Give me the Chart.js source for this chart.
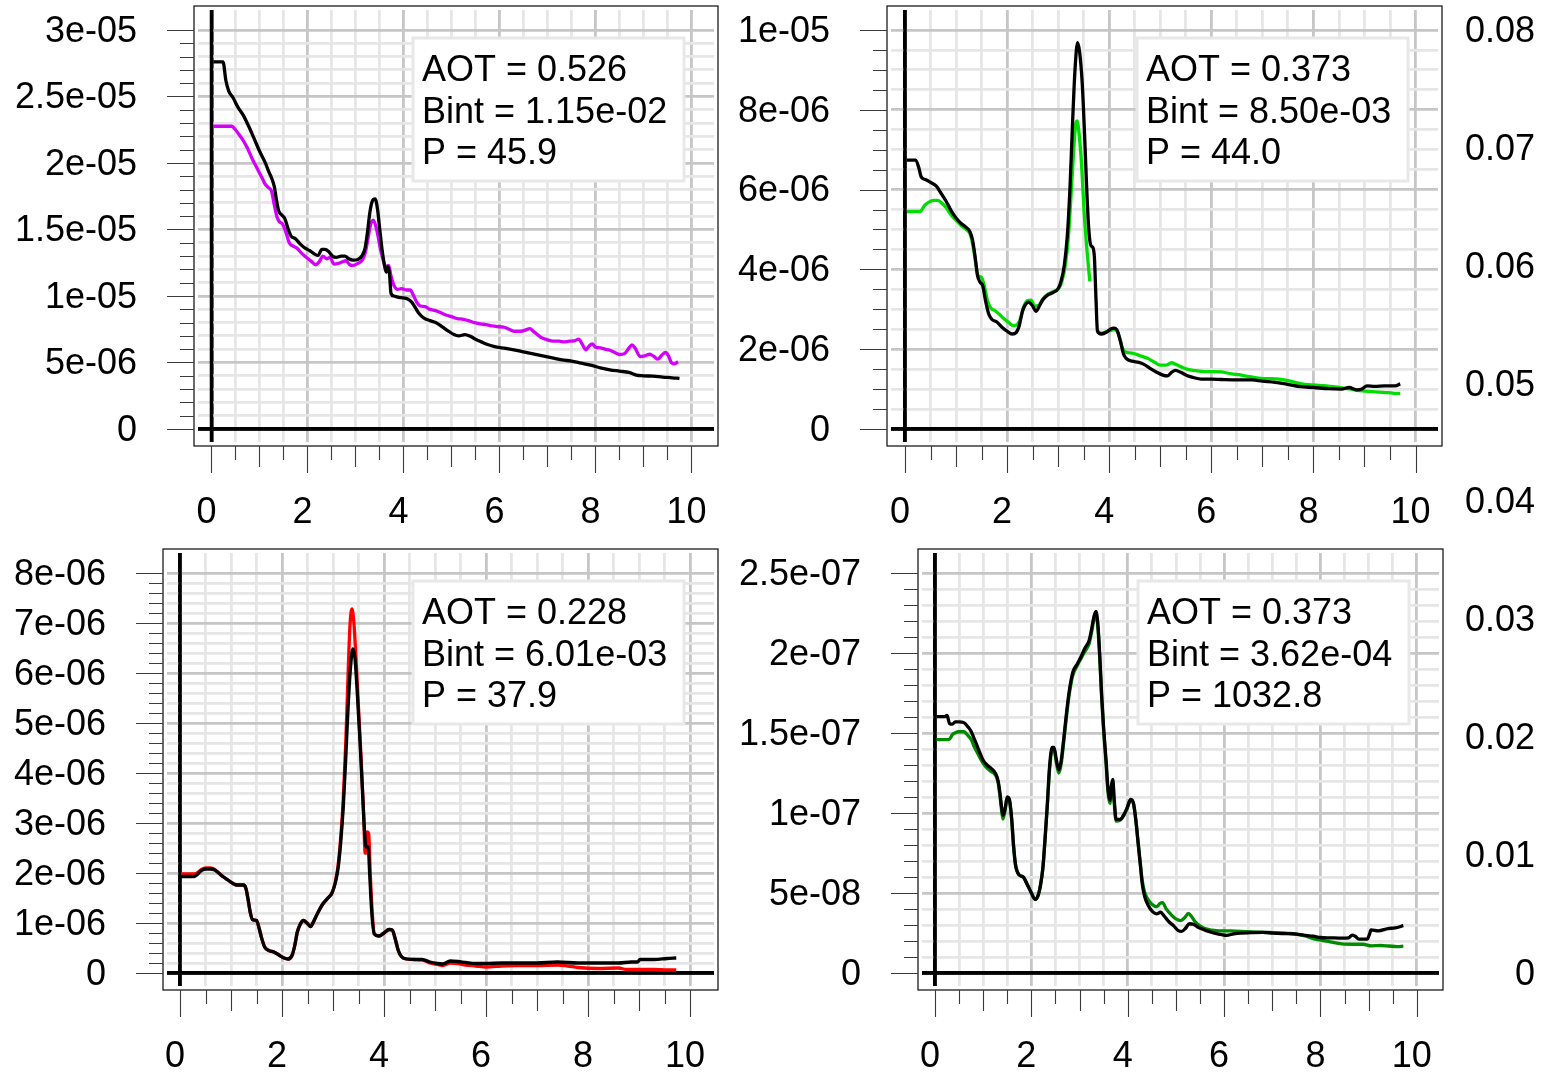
<!DOCTYPE html>
<html>
<head>
<meta charset="utf-8">
<script src="https://cdn.jsdelivr.net/npm/chart.js@4.4.1/dist/chart.umd.min.js"></script>
<style>
  html, body { margin: 0; padding: 0; background: #fff; }
  #wrap { position: relative; width: 1544px; height: 1073px; overflow: hidden; }
  canvas { position: absolute; left: 0; top: 0; }
</style>
</head>
<body>
<div id="wrap">
  <canvas id="c1" width="1544" height="1073"></canvas>
  <canvas id="c2" width="1544" height="1073"></canvas>
  <canvas id="c3" width="1544" height="1073"></canvas>
  <canvas id="c4" width="1544" height="1073"></canvas>
  <canvas id="c5" width="1544" height="1073"></canvas>
</div>
<script>
const W = 1544, H = 1073;

// x axis: grid every 0.5, labels on even values
const xLabels = [0, 2, 4, 6, 8, 10];
const xMinor = 0.5;

// right-hand axis shared by both rows
const rightTicks = [0, 0.01, 0.02, 0.03, 0.04, 0.05, 0.06, 0.07, 0.08];
const rightLabels = ['0', '0.01', '0.02', '0.03', '0.04', '0.05', '0.06', '0.07', '0.08'];

// ---- panel 1 (y in 1e-6) ----
const p1Text = ['AOT = 0.526', 'Bint = 1.15e-02', 'P = 45.9'];
const p1YLabels = ['0', '5e-06', '1e-05', '1.5e-05', '2e-05', '2.5e-05', '3e-05'];
const p1Black = [[0.04,27.6],[0.24,27.6],[0.3,26.2],[0.36,25.4],[0.45,24.9],[0.55,24.2],[0.66,23.6],[0.77,22.8],[0.88,21.9],[1.0,20.9],[1.11,20.1],[1.2,19.3],[1.26,18.8],[1.31,18.2],[1.35,17.3],[1.4,16.4],[1.46,16.1],[1.53,15.8],[1.6,15.0],[1.66,14.5],[1.75,14.3],[1.85,13.9],[1.95,13.6],[2.05,13.4],[2.15,13.15],[2.22,13.05],[2.3,13.5],[2.36,13.5],[2.44,13.35],[2.52,13.0],[2.6,12.9],[2.7,13.0],[2.78,13.0],[2.86,12.8],[2.95,12.7],[3.05,12.75],[3.13,13.0],[3.2,13.6],[3.25,14.8],[3.3,16.3],[3.36,17.2],[3.41,17.3],[3.46,16.5],[3.5,15.2],[3.55,13.6],[3.6,12.4],[3.64,11.8],[3.68,12.2],[3.71,11.6],[3.74,10.2],[3.8,10.0],[3.9,9.9],[4.0,9.85],[4.1,9.75],[4.18,9.5],[4.25,9.1],[4.32,8.7],[4.42,8.35],[4.55,8.15],[4.67,8.0],[4.8,7.7],[4.92,7.4],[5.05,7.1],[5.15,7.0],[5.28,7.1],[5.4,6.95],[5.5,6.75],[5.62,6.55],[5.75,6.35],[5.9,6.2],[6.05,6.1],[6.3,5.95],[6.5,5.8],[6.7,5.65],[6.9,5.5],[7.1,5.35],[7.3,5.2],[7.5,5.1],[7.7,4.95],[7.9,4.8],[8.1,4.6],[8.3,4.45],[8.5,4.35],[8.7,4.25],[8.85,4.05],[9.0,4.0],[9.2,3.97],[9.4,3.9],[9.6,3.85],[9.75,3.8]];
const p1Magenta = [[0.04,22.76],[0.42,22.76],[0.5,22.5],[0.58,22.1],[0.66,21.7],[0.75,21.1],[0.85,20.3],[0.95,19.6],[1.05,18.9],[1.12,18.4],[1.2,18.1],[1.25,17.9],[1.3,17.0],[1.36,16.0],[1.41,15.6],[1.48,15.4],[1.55,14.8],[1.62,14.0],[1.7,13.75],[1.78,13.6],[1.88,13.2],[1.98,12.9],[2.08,12.6],[2.17,12.35],[2.25,12.6],[2.32,13.0],[2.4,12.8],[2.47,12.9],[2.55,12.4],[2.65,12.45],[2.72,12.55],[2.8,12.65],[2.88,12.35],[2.95,12.3],[3.05,12.45],[3.14,12.7],[3.2,13.2],[3.26,14.3],[3.31,15.3],[3.37,15.7],[3.42,15.3],[3.47,14.5],[3.52,13.5],[3.57,12.8],[3.62,12.2],[3.69,12.3],[3.74,11.5],[3.8,10.8],[3.88,10.5],[3.96,10.55],[4.06,10.45],[4.14,10.45],[4.2,10.1],[4.28,9.5],[4.35,9.25],[4.45,9.2],[4.55,9.0],[4.67,8.9],[4.8,8.7],[4.9,8.55],[5.0,8.45],[5.12,8.3],[5.25,8.25],[5.35,8.15],[5.48,8.0],[5.6,7.9],[5.72,7.85],[5.85,7.75],[5.95,7.7],[6.1,7.65],[6.2,7.5],[6.3,7.35],[6.45,7.35],[6.55,7.45],[6.63,7.55],[6.72,7.3],[6.86,6.9],[7.0,6.7],[7.12,6.6],[7.25,6.6],[7.35,6.55],[7.45,6.6],[7.55,6.62],[7.65,6.75],[7.72,6.4],[7.8,5.95],[7.87,6.25],[7.93,6.4],[8.0,6.15],[8.1,6.1],[8.2,6.0],[8.3,5.92],[8.4,5.75],[8.5,5.6],[8.6,5.65],[8.7,6.1],[8.76,6.32],[8.83,6.05],[8.93,5.45],[9.03,5.5],[9.13,5.62],[9.22,5.45],[9.3,5.25],[9.38,5.55],[9.46,5.75],[9.52,5.5],[9.58,5.0],[9.64,4.9],[9.72,5.06]];

// ---- panel 2 (y in 1e-6) ----
const p2Text = ['AOT = 0.373', 'Bint = 8.50e-03', 'P = 44.0'];
const p2YLabels = ['0', '2e-06', '4e-06', '6e-06', '8e-06', '1e-05'];
const p2Black = [[0.04,6.74],[0.21,6.74],[0.27,6.55],[0.32,6.31],[0.4,6.25],[0.5,6.18],[0.61,6.09],[0.7,5.92],[0.8,5.72],[0.9,5.48],[1.0,5.29],[1.1,5.15],[1.2,5.05],[1.27,4.95],[1.32,4.75],[1.37,4.35],[1.42,3.85],[1.47,3.68],[1.52,3.6],[1.58,3.2],[1.64,2.88],[1.7,2.75],[1.8,2.68],[1.9,2.55],[2.0,2.45],[2.1,2.38],[2.18,2.42],[2.24,2.6],[2.3,2.95],[2.36,3.12],[2.42,3.18],[2.49,3.1],[2.57,2.95],[2.63,3.08],[2.7,3.24],[2.8,3.36],[2.9,3.42],[3.0,3.52],[3.06,3.72],[3.12,4.1],[3.18,4.85],[3.23,6.0],[3.28,7.6],[3.33,9.0],[3.38,9.68],[3.42,9.45],[3.47,8.7],[3.52,7.3],[3.56,6.0],[3.6,5.0],[3.64,4.6],[3.68,4.55],[3.71,4.3],[3.74,3.3],[3.77,2.45],[3.85,2.38],[3.95,2.43],[4.02,2.5],[4.1,2.53],[4.16,2.45],[4.22,2.2],[4.28,1.88],[4.34,1.76],[4.45,1.7],[4.58,1.67],[4.68,1.62],[4.8,1.52],[4.92,1.43],[5.05,1.35],[5.14,1.33],[5.22,1.42],[5.3,1.47],[5.4,1.42],[5.52,1.34],[5.65,1.29],[5.8,1.25],[6.0,1.25],[6.2,1.24],[6.5,1.23],[6.8,1.23],[7.0,1.2],[7.25,1.17],[7.5,1.12],[7.75,1.06],[8.0,1.04],[8.3,1.01],[8.55,1.0],[8.7,1.04],[8.85,0.98],[8.95,1.0],[9.05,1.08],[9.2,1.07],[9.4,1.08],[9.6,1.08],[9.7,1.13]];
const p2Green = [[0.04,5.45],[0.3,5.45],[0.38,5.6],[0.46,5.68],[0.56,5.73],[0.64,5.73],[0.72,5.66],[0.8,5.56],[0.9,5.37],[1.0,5.23],[1.1,5.1],[1.2,5.0],[1.27,4.9],[1.33,4.6],[1.38,4.2],[1.43,3.85],[1.5,3.8],[1.56,3.55],[1.62,3.2],[1.68,3.03],[1.76,2.97],[1.84,2.88],[1.94,2.76],[2.04,2.66],[2.12,2.59],[2.2,2.62],[2.27,2.8],[2.33,3.08],[2.4,3.22],[2.47,3.23],[2.54,3.08],[2.62,3.1],[2.7,3.26],[2.8,3.38],[2.9,3.44],[3.0,3.5],[3.07,3.68],[3.14,4.1],[3.2,4.8],[3.25,5.8],[3.3,6.9],[3.34,7.6],[3.37,7.72],[3.41,7.4],[3.46,6.6],[3.51,5.4],[3.57,4.4],[3.62,3.7],[3.7,null],[3.77,2.45],[3.85,2.4],[3.95,2.44],[4.05,2.48],[4.14,2.5],[4.2,2.3],[4.26,2.02],[4.32,1.93],[4.45,1.9],[4.6,1.84],[4.75,1.77],[4.88,1.68],[5.0,1.6],[5.12,1.6],[5.22,1.66],[5.3,1.62],[5.42,1.55],[5.52,1.5],[5.7,1.46],[5.86,1.44],[6.0,1.44],[6.2,1.43],[6.4,1.38],[6.54,1.36],[6.75,1.31],[6.97,1.27],[7.2,1.26],[7.4,1.24],[7.6,1.18],[7.82,1.12],[8.05,1.1],[8.25,1.08],[8.5,1.04],[8.68,1.01],[8.85,0.97],[9.02,0.95],[9.2,0.93],[9.36,0.92],[9.55,0.9],[9.7,0.89]];

// ---- panel 3 (y in 1e-6) ----
const p3Text = ['AOT = 0.228', 'Bint = 6.01e-03', 'P = 37.9'];
const p3YLabels = ['0', '1e-06', '2e-06', '3e-06', '4e-06', '5e-06', '6e-06', '7e-06', '8e-06'];
const p3Black = [[0.02,1.93],[0.28,1.93],[0.35,1.98],[0.42,2.05],[0.51,2.08],[0.6,2.08],[0.68,2.06],[0.76,2.0],[0.84,1.93],[0.94,1.86],[1.04,1.79],[1.12,1.76],[1.24,1.76],[1.29,1.7],[1.33,1.5],[1.38,1.2],[1.42,1.07],[1.5,1.05],[1.55,0.9],[1.6,0.7],[1.66,0.52],[1.74,0.45],[1.84,0.42],[1.94,0.36],[2.04,0.3],[2.12,0.28],[2.2,0.36],[2.25,0.55],[2.3,0.82],[2.36,0.98],[2.42,1.05],[2.49,1.0],[2.56,0.93],[2.62,1.03],[2.7,1.2],[2.8,1.38],[2.9,1.5],[2.98,1.6],[3.05,1.82],[3.1,2.1],[3.15,2.6],[3.2,3.3],[3.25,4.3],[3.3,5.4],[3.35,6.2],[3.39,6.48],[3.43,6.3],[3.47,5.7],[3.52,4.8],[3.57,3.8],[3.62,2.8],[3.65,2.52],[3.69,2.52],[3.72,1.95],[3.76,1.2],[3.81,0.78],[3.9,0.74],[4.0,0.8],[4.1,0.87],[4.16,0.86],[4.22,0.68],[4.28,0.45],[4.34,0.33],[4.45,0.28],[4.6,0.27],[4.75,0.27],[4.9,0.22],[5.05,0.19],[5.15,0.18],[5.3,0.24],[5.45,0.23],[5.6,0.21],[5.8,0.19],[6.0,0.19],[6.3,0.2],[6.6,0.2],[7.0,0.2],[7.4,0.22],[7.8,0.2],[8.2,0.2],[8.6,0.2],[8.85,0.22],[8.97,0.22],[9.02,0.27],[9.3,0.27],[9.55,0.29],[9.73,0.3]];
const p3Red = [[0.02,1.98],[0.28,1.98],[0.35,2.01],[0.42,2.07],[0.51,2.1],[0.6,2.1],[0.68,2.07],[0.76,2.0],[0.84,1.93],[0.94,1.86],[1.04,1.79],[1.12,1.76],[1.24,1.76],[1.29,1.7],[1.33,1.5],[1.38,1.2],[1.42,1.07],[1.5,1.05],[1.55,0.9],[1.6,0.7],[1.66,0.52],[1.74,0.45],[1.84,0.42],[1.94,0.36],[2.04,0.3],[2.12,0.28],[2.2,0.36],[2.25,0.55],[2.3,0.82],[2.36,0.98],[2.42,1.05],[2.49,1.0],[2.56,0.93],[2.62,1.03],[2.7,1.2],[2.8,1.38],[2.9,1.5],[2.98,1.6],[3.05,1.85],[3.1,2.15],[3.15,2.7],[3.2,3.45],[3.25,4.6],[3.29,5.8],[3.33,6.9],[3.37,7.28],[3.41,7.0],[3.45,6.3],[3.5,5.3],[3.55,4.3],[3.6,3.2],[3.63,2.4],[3.65,2.4],[3.67,2.82],[3.7,2.78],[3.73,2.0],[3.77,1.2],[3.81,0.78],[3.9,0.74],[4.0,0.8],[4.1,0.87],[4.16,0.86],[4.22,0.68],[4.28,0.45],[4.34,0.33],[4.45,0.28],[4.6,0.27],[4.75,0.26],[4.9,0.2],[5.05,0.17],[5.15,0.15],[5.3,0.2],[5.45,0.19],[5.6,0.16],[5.8,0.14],[6.0,0.12],[6.3,0.14],[6.6,0.15],[7.0,0.15],[7.4,0.16],[7.6,0.14],[7.8,0.11],[8.2,0.09],[8.6,0.1],[8.75,0.07],[9.0,0.07],[9.3,0.07],[9.55,0.06],[9.73,0.06]];

// ---- panel 4 (y in 1e-8) ----
const p4Text = ['AOT = 0.373', 'Bint = 3.62e-04', 'P = 1032.8'];
const p4YLabels = ['0', '5e-08', '1e-07', '1.5e-07', '2e-07', '2.5e-07'];
const p4Black = [[0.03,16.03],[0.2,16.03],[0.25,16.1],[0.3,15.6],[0.36,15.55],[0.42,15.7],[0.5,15.7],[0.6,15.65],[0.68,15.4],[0.75,15.1],[0.82,14.6],[0.9,14.0],[1.0,13.3],[1.08,13.0],[1.16,12.8],[1.26,12.45],[1.31,12.0],[1.35,11.2],[1.38,10.4],[1.41,9.85],[1.45,10.2],[1.5,11.0],[1.54,10.9],[1.59,9.7],[1.63,8.0],[1.67,6.8],[1.74,6.15],[1.83,6.0],[1.92,5.5],[2.0,5.0],[2.08,4.6],[2.14,4.85],[2.19,5.5],[2.24,6.6],[2.28,8.2],[2.33,10.5],[2.38,13.0],[2.43,14.1],[2.47,14.1],[2.52,13.3],[2.57,12.7],[2.62,13.3],[2.67,14.6],[2.72,16.0],[2.78,17.5],[2.86,18.8],[2.95,19.3],[3.02,19.7],[3.11,20.3],[3.2,20.8],[3.25,21.5],[3.3,22.3],[3.34,22.6],[3.38,21.8],[3.42,19.8],[3.46,17.3],[3.5,15.3],[3.55,13.3],[3.59,11.5],[3.63,10.8],[3.66,11.7],[3.69,12.1],[3.72,10.8],[3.76,9.6],[3.84,9.6],[3.92,9.9],[3.99,10.35],[4.06,10.85],[4.12,10.6],[4.17,9.5],[4.22,8.0],[4.26,6.8],[4.3,5.6],[4.35,4.8],[4.42,4.25],[4.52,3.82],[4.6,3.7],[4.68,3.8],[4.76,3.55],[4.85,3.22],[4.95,2.96],[5.05,2.65],[5.12,2.6],[5.2,2.8],[5.28,3.08],[5.36,3.05],[5.45,2.88],[5.55,2.75],[5.68,2.6],[5.8,2.5],[5.95,2.4],[6.05,2.36],[6.2,2.45],[6.35,2.5],[6.55,2.52],[6.8,2.54],[7.0,2.5],[7.2,2.47],[7.45,2.45],[7.65,2.37],[7.85,2.3],[8.0,2.22],[8.2,2.2],[8.45,2.18],[8.58,2.2],[8.66,2.37],[8.72,2.3],[8.8,2.12],[8.97,2.12],[9.02,2.45],[9.05,2.7],[9.2,2.64],[9.4,2.78],[9.55,2.82],[9.72,2.96]];
const p4Green = [[0.03,14.59],[0.29,14.59],[0.36,14.9],[0.42,15.02],[0.5,15.08],[0.6,15.08],[0.68,14.85],[0.75,14.6],[0.82,14.1],[0.9,13.65],[1.0,13.1],[1.08,12.8],[1.16,12.6],[1.26,12.35],[1.31,11.9],[1.35,11.0],[1.38,10.2],[1.41,9.62],[1.45,10.1],[1.5,10.9],[1.54,10.8],[1.59,9.6],[1.63,7.9],[1.67,6.75],[1.74,6.15],[1.83,6.0],[1.92,5.5],[2.0,5.0],[2.08,4.6],[2.14,4.85],[2.19,5.5],[2.24,6.6],[2.28,8.2],[2.33,10.4],[2.38,12.8],[2.43,13.9],[2.47,13.95],[2.52,13.1],[2.57,12.5],[2.62,13.1],[2.67,14.4],[2.72,15.8],[2.78,17.3],[2.86,18.6],[2.95,19.2],[3.02,19.6],[3.11,20.1],[3.2,20.6],[3.25,21.3],[3.3,22.1],[3.34,22.4],[3.38,21.6],[3.42,19.6],[3.46,17.1],[3.5,15.1],[3.55,13.1],[3.59,11.3],[3.63,10.6],[3.66,11.5],[3.69,11.9],[3.72,10.6],[3.76,9.5],[3.84,9.55],[3.92,9.85],[3.99,10.3],[4.06,10.8],[4.12,10.55],[4.17,9.5],[4.22,8.0],[4.26,6.9],[4.3,5.8],[4.35,5.05],[4.42,4.6],[4.5,4.3],[4.6,4.15],[4.67,4.35],[4.72,4.4],[4.8,4.0],[4.9,3.65],[5.0,3.38],[5.1,3.28],[5.18,3.45],[5.26,3.72],[5.32,3.55],[5.4,3.2],[5.5,2.95],[5.62,2.76],[5.75,2.68],[5.9,2.64],[6.15,2.64],[6.5,2.58],[6.94,2.54],[7.2,2.5],[7.38,2.47],[7.55,2.4],[7.7,2.3],[7.85,2.15],[8.0,2.05],[8.2,1.95],[8.44,1.82],[8.7,1.8],[8.88,1.8],[9.06,1.7],[9.25,1.72],[9.41,1.69],[9.6,1.65],[9.72,1.68]];

// panel layout: frame box in page px, axis ranges of the inner plotting area
const panels = [
  { id: 'c1', frame: { l: 194, r: 718, t: 6, b: 446 }, x: [-0.281, 10.469], y: [-0.977, 31.5],
    yTop: 30, yMajor: 5, yMinor: 1, yLabels: p1YLabels, text: p1Text,
    series: [{ data: p1Black, color: '#000000' }, { data: p1Magenta, color: '#d400f9' }] },
  { id: 'c2', frame: { l: 887, r: 1442, t: 6, b: 446 }, x: [-0.274, 10.44], y: [-0.326, 10.5],
    yTop: 10, yMajor: 2, yMinor: 0.5, yLabels: p2YLabels, text: p2Text,
    series: [{ data: p2Black, color: '#000000' }, { data: p2Green, color: '#00dd00' }] },
  { id: 'c3', frame: { l: 163, r: 718, t: 549, b: 990 }, x: [-0.255, 10.47], y: [-0.26, 8.4],
    yTop: 8, yMajor: 1, yMinor: 0.2, yLabels: p3YLabels, text: p3Text,
    series: [{ data: p3Black, color: '#000000' }, { data: p3Red, color: '#ff0000' }] },
  { id: 'c4', frame: { l: 918, r: 1443, t: 549, b: 990 }, x: [-0.27, 10.46], y: [-0.81, 26.25],
    yTop: 25, yMajor: 5, yMinor: 1, yLabels: p4YLabels, text: p4Text,
    series: [{ data: p4Black, color: '#000000' }, { data: p4Green, color: '#008a00' }] }
];

Chart.defaults.font.family = '"Liberation Sans", Arial, Helvetica, sans-serif';
Chart.defaults.font.size = 36;
Chart.defaults.color = '#000';

const INSET = 4;
const GRID_MAJOR = '#c6c6c6';
const GRID_MINOR = '#e6e6e6';

const near = (a, b) => Math.abs(a - b) < 1e-6;
const isMultiple = (v, step) => near(v / step, Math.round(v / step));

function steps(top, step) {
  const out = [];
  const n = Math.round(top / step);
  for (let i = 0; i <= n; i++) out.push(+(i * step).toFixed(6));
  return out;
}

// frame, outward tick marks, zero lines and the text box
function rPlot(p) {
  return {
    id: 'rPlot',
    beforeDatasetsDraw(chart) {
      const { ctx, chartArea: a, scales: { x, y } } = chart;
      const x0 = x.getPixelForValue(0), y0 = y.getPixelForValue(0);
      ctx.save();
      ctx.strokeStyle = '#000';
      ctx.lineWidth = 3.5;
      ctx.beginPath();
      ctx.moveTo(x0, a.top); ctx.lineTo(x0, a.bottom);
      ctx.moveTo(a.left, y0); ctx.lineTo(a.right, y0);
      ctx.stroke();
      ctx.restore();
    },
    afterDraw(chart) {
      const { ctx, scales: { x, y } } = chart;
      const f = p.frame;
      ctx.save();
      ctx.strokeStyle = '#1c1c1c';
      ctx.lineWidth = 1.3;
      ctx.strokeRect(f.l, f.t, f.r - f.l, f.b - f.t);

      ctx.strokeStyle = '#3a3a3a';
      ctx.lineWidth = 1.1;
      ctx.beginPath();
      steps(10, xMinor).forEach(v => {
        const len = isMultiple(v, 2) ? 27 : isMultiple(v, 1) ? 21 : 14;
        const px = Math.round(x.getPixelForValue(v)) + 0.5;
        ctx.moveTo(px, f.b); ctx.lineTo(px, f.b + len);
      });
      steps(p.yTop, p.yMinor).forEach(v => {
        const len = isMultiple(v, p.yMajor) ? 27 : 14;
        const py = Math.round(y.getPixelForValue(v)) + 0.5;
        ctx.moveTo(f.l, py); ctx.lineTo(f.l - len, py);
      });
      ctx.stroke();

      // text box in the upper right corner
      const bw = 271, bh = 143;
      const bx = f.r - 34 - bw, by = f.t + 32;
      ctx.fillStyle = '#fff';
      ctx.fillRect(bx, by, bw, bh);
      ctx.strokeStyle = '#e8e8e8';
      ctx.lineWidth = 3;
      ctx.strokeRect(bx, by, bw, bh);
      ctx.fillStyle = '#000';
      ctx.font = '36px "Liberation Sans", Arial, Helvetica, sans-serif';
      ctx.textAlign = 'left';
      ctx.textBaseline = 'alphabetic';
      p.text.forEach((t, i) => ctx.fillText(t, bx + 9, by + 43 + 41.7 * i));
      ctx.restore();
    }
  };
}

panels.forEach(p => {
  const inner = { l: p.frame.l + INSET, r: p.frame.r - INSET, t: p.frame.t + INSET, b: p.frame.b - INSET };
  new Chart(document.getElementById(p.id), {
    type: 'line',
    data: {
      datasets: p.series.map(s => ({
        data: s.data.map(([x, y]) => ({ x, y })),
        borderColor: s.color,
        borderWidth: 3.3,
        pointRadius: 0,
        fill: false,
        spanGaps: false,
        cubicInterpolationMode: 'monotone'
      }))
    },
    options: {
      responsive: false,
      animation: false,
      events: [],
      layout: { padding: { left: 0, top: inner.t, right: W - inner.r, bottom: 0 } },
      plugins: { legend: { display: false }, tooltip: { enabled: false } },
      scales: {
        x: {
          type: 'linear',
          min: p.x[0], max: p.x[1],
          afterBuildTicks: s => { s.ticks = steps(10, xMinor).map(v => ({ value: v })); },
          afterFit: s => { s.height = H - inner.b; s.paddingLeft = 0; s.paddingRight = 0; },
          border: { display: false },
          grid: {
            drawTicks: false,
            color: c => near(c.tick.value, 0) ? '#000' : isMultiple(c.tick.value, 2) ? GRID_MAJOR : GRID_MINOR,
            lineWidth: c => near(c.tick.value, 0) ? 3.5 : 2.8
          },
          ticks: {
            autoSkip: false, maxRotation: 0, minRotation: 0,
            padding: 49.5, labelOffset: -5,
            callback: v => xLabels.some(l => near(l, v)) ? String(v) : ''
          }
        },
        y: {
          type: 'linear',
          min: p.y[0], max: p.y[1],
          afterBuildTicks: s => { s.ticks = steps(p.yTop, p.yMinor).map(v => ({ value: v })); },
          afterFit: s => { s.width = inner.l; s.paddingTop = 0; s.paddingBottom = 0; },
          border: { display: false },
          grid: {
            drawTicks: false,
            color: c => near(c.tick.value, 0) ? '#000' : isMultiple(c.tick.value, p.yMajor) ? GRID_MAJOR : GRID_MINOR,
            lineWidth: c => near(c.tick.value, 0) ? 3.5 : 2.8
          },
          ticks: {
            autoSkip: false, padding: 61, labelOffset: 2,
            callback: v => isMultiple(v, p.yMajor) ? p.yLabels[Math.round(v / p.yMajor)] : ''
          }
        }
      }
    },
    plugins: [rPlot(p)]
  });
});

// secondary axis on the far right, spanning both rows
new Chart(document.getElementById('c5'), {
  type: 'line',
  data: { datasets: [] },
  options: {
    responsive: false,
    animation: false,
    events: [],
    layout: { padding: { left: 0, top: 30, right: 0, bottom: 100 } },
    plugins: { legend: { display: false }, tooltip: { enabled: false } },
    scales: {
      x: { type: 'linear', display: false, min: 0, max: 1 },
      y: {
        type: 'linear', min: 0, max: 0.08,
        afterBuildTicks: s => { s.ticks = rightTicks.map(v => ({ value: v })); },
        afterFit: s => { s.width = 1537; s.paddingTop = 0; s.paddingBottom = 0; },
        border: { display: false },
        grid: { display: false, drawTicks: false },
        ticks: {
          autoSkip: false, padding: 2, labelOffset: 2,
          callback: (v, i) => rightLabels[i]
        }
      }
    }
  }
});
</script>
</body>
</html>
